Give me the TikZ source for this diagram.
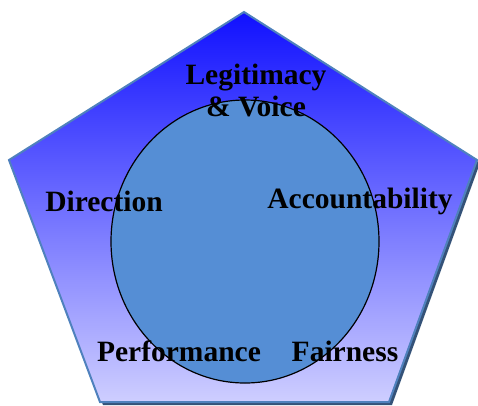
\documentclass[tikz,border=0pt]{standalone}
\usepackage{fontspec}
\usetikzlibrary{shapes.geometric}
\setmainfont{Liberation Serif}
\definecolor{penedge}{RGB}{79,129,189}
\definecolor{penshadow}{RGB}{52,82,120}
\definecolor{pentop}{RGB}{16,16,255}
\definecolor{penmid}{RGB}{150,150,252}
\definecolor{penbottom}{RGB}{206,206,255}
\definecolor{corefill}{RGB}{85,142,213}
\tikzset{
  label/.style={font=\fontsize{29.5}{32}\selectfont\bfseries, text=black, inner sep=0pt, align=center},
}
\begin{document}
\begin{tikzpicture}[x=1pt,y=-1pt]
  \useasboundingbox (0,0) rectangle (478,405);
  % pentagon corners
  \coordinate (top) at (244,12);
  \coordinate (right) at (477,160);
  \coordinate (br) at (389,402);
  \coordinate (bl) at (100,402);
  \coordinate (left) at (9,160);
  % drop shadow
  \fill[penshadow] ([shift={(3,3)}]top) -- ([shift={(3,3)}]right) -- ([shift={(3,3)}]br) -- ([shift={(3,3)}]bl) -- ([shift={(3,3)}]left) -- cycle;
  % pentagon body with vertical gradient
  \shade[top color=pentop, middle color=penmid, bottom color=penbottom]
    (top) -- (right) -- (br) -- (bl) -- (left) -- cycle;
  \draw[penedge, line width=2pt, line join=miter]
    (top) -- (right) -- (br) -- (bl) -- (left) -- cycle;
  % inner circle
  \node[ellipse, draw=black, line width=1.2pt, fill=corefill, minimum width=268pt, minimum height=283pt, inner sep=0pt] (core) at (245,241.5) {};
  % labels
  \node[label] (legit) at (256,90) {Legitimacy\\\& Voice};
  \node[label] (dir) at (104,201) {Direction};
  \node[label] (acc) at (360,201) {Accountability};
  \node[label] (perf) at (179,351) {Performance};
  \node[label] (fair) at (345,351) {Fairness};
\end{tikzpicture}
\end{document}
